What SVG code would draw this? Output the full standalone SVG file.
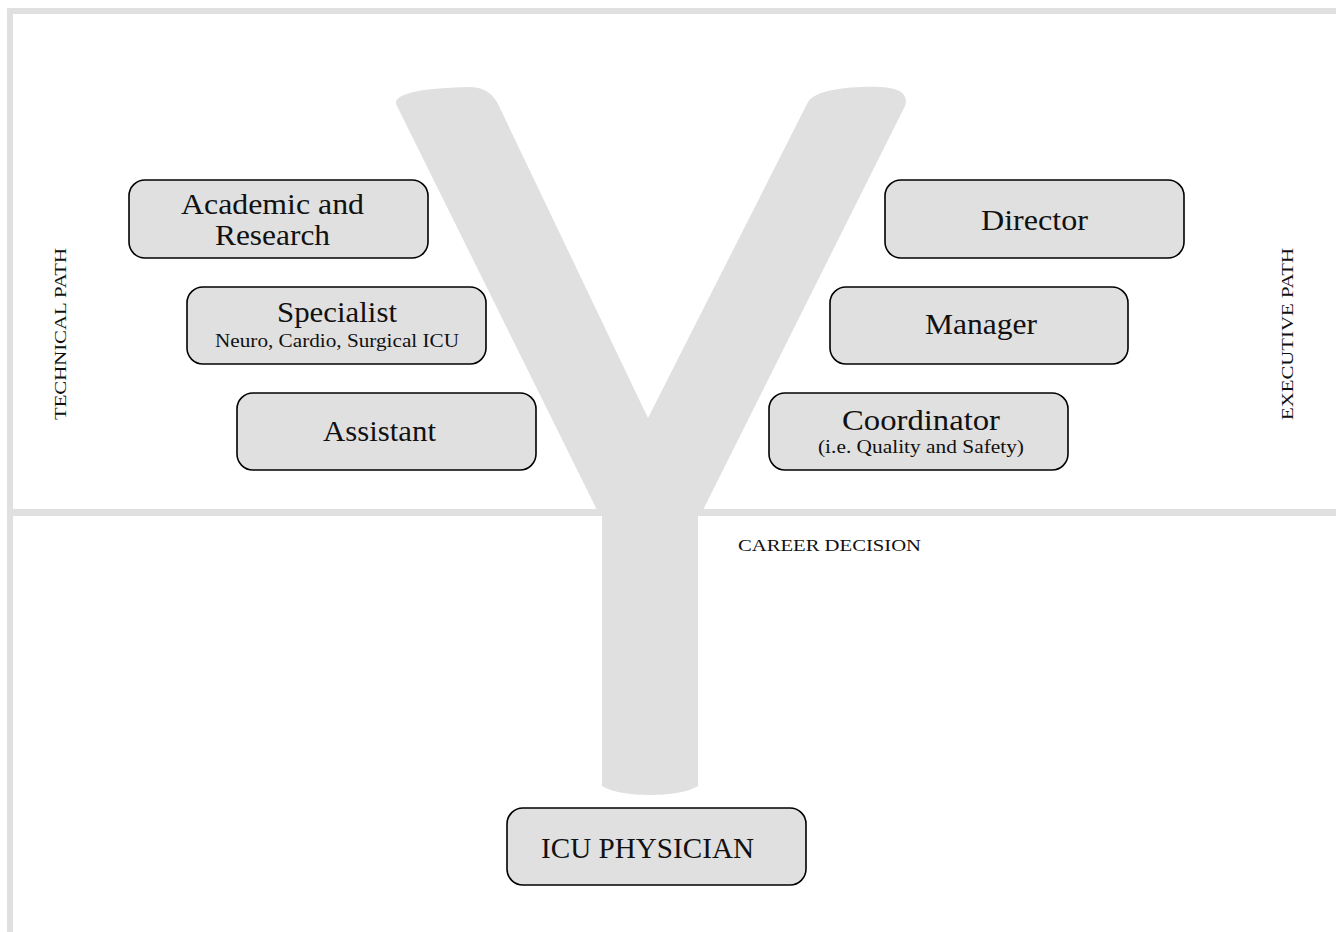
<svg xmlns="http://www.w3.org/2000/svg" width="1336" height="932" viewBox="0 0 1336 932">
<style>
.frame{fill:#e0e0e0;}
.box{fill:#e0e0e0;stroke:#000;stroke-width:1.6;}
.t{font-family:"Liberation Serif","Times New Roman",serif;fill:#111;text-anchor:middle;}
.big{font-size:30px;}
.sub{font-size:19px;}
.lab{font-size:17px;}
</style>
<rect width="1336" height="932" fill="#fff"/>
<g id="frame">
<rect class="frame" x="7" y="8" width="1329" height="6"/>
<rect class="frame" x="7" y="8" width="6" height="924"/>
<rect class="frame" x="7" y="509" width="1329" height="7"/>
</g>
<g id="Y-shape">
<path class="frame" d="M397,106 C390,94 420,88 470,87 C486,87 494,96 498,104 L648,418 L808,102 C815,90 850,86 880,87 C905,88 910,98 903,110 L703,510 L698,516 L698,786 C680,798 620,798 602,786 L602,516 L597,510 Z"/>
</g>
<g id="connectors"></g>
<g id="academic">
<rect class="box" x="129" y="180" width="299" height="78" rx="16"/>
<text class="t big" x="272.5" y="214" textLength="183" lengthAdjust="spacingAndGlyphs">Academic and</text>
<text class="t big" x="272.5" y="245" textLength="115" lengthAdjust="spacingAndGlyphs">Research</text>
</g>
<g id="specialist">
<rect class="box" x="187" y="287" width="299" height="77" rx="16"/>
<text class="t big" x="337" y="322" textLength="120" lengthAdjust="spacingAndGlyphs">Specialist</text>
<text class="t sub" x="337" y="347" textLength="244" lengthAdjust="spacingAndGlyphs">Neuro, Cardio, Surgical ICU</text>
</g>
<g id="assistant">
<rect class="box" x="237" y="393" width="299" height="77" rx="16"/>
<text class="t big" x="379.5" y="441" textLength="113" lengthAdjust="spacingAndGlyphs">Assistant</text>
</g>
<g id="director">
<rect class="box" x="885" y="180" width="299" height="78" rx="16"/>
<text class="t big" x="1034.5" y="230" textLength="107" lengthAdjust="spacingAndGlyphs">Director</text>
</g>
<g id="manager">
<rect class="box" x="830" y="287" width="298" height="77" rx="16"/>
<text class="t big" x="981" y="334" textLength="112" lengthAdjust="spacingAndGlyphs">Manager</text>
</g>
<g id="coordinator">
<rect class="box" x="769" y="393" width="299" height="77" rx="16"/>
<text class="t big" x="921" y="430" textLength="158" lengthAdjust="spacingAndGlyphs">Coordinator</text>
<text class="t sub" x="921" y="453" textLength="206" lengthAdjust="spacingAndGlyphs">(i.e. Quality and Safety)</text>
</g>
<g id="icu-physician">
<rect class="box" x="507" y="808" width="299" height="77" rx="16"/>
<text class="t big" x="647.5" y="858" textLength="213" lengthAdjust="spacingAndGlyphs">ICU PHYSICIAN</text>
</g>
<g id="labels">
<text class="t lab" transform="translate(66,334) rotate(-90)" textLength="172" lengthAdjust="spacingAndGlyphs">TECHNICAL PATH</text>
<text class="t lab" transform="translate(1293,334) rotate(-90)" textLength="172" lengthAdjust="spacingAndGlyphs">EXECUTIVE PATH</text>
<text class="t lab" x="829.5" y="551" textLength="183" lengthAdjust="spacingAndGlyphs">CAREER DECISION</text>
</g>
</svg>
